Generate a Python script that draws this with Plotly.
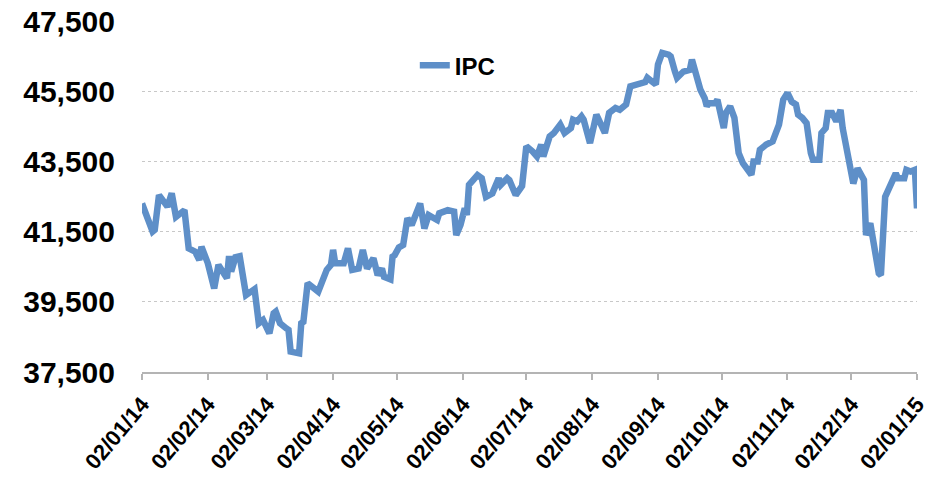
import plotly.graph_objects as go

dates = [
    "2014-01-02", "2014-01-07", "2014-01-08", "2014-01-10", "2014-01-14", "2014-01-16", "2014-01-18",
    "2014-01-20", "2014-01-22", "2014-01-24", "2014-01-27", "2014-01-29", "2014-01-30",
    "2014-02-02", "2014-02-05", "2014-02-07", "2014-02-11", "2014-02-12", "2014-02-13", "2014-02-15",
    "2014-02-17", "2014-02-20", "2014-02-24", "2014-02-26", "2014-02-28",
    "2014-03-03", "2014-03-05", "2014-03-06", "2014-03-08", "2014-03-11", "2014-03-12", "2014-03-13",
    "2014-03-17", "2014-03-18", "2014-03-19", "2014-03-21", "2014-03-26", "2014-03-30",
    "2014-04-01", "2014-04-02", "2014-04-03", "2014-04-07", "2014-04-09", "2014-04-11", "2014-04-14",
    "2014-04-16", "2014-04-18", "2014-04-21", "2014-04-23", "2014-04-25", "2014-04-26", "2014-04-29",
    "2014-04-30",
    "2014-05-01", "2014-05-03", "2014-05-05", "2014-05-07", "2014-05-09", "2014-05-13", "2014-05-15",
    "2014-05-17", "2014-05-21", "2014-05-22", "2014-05-26", "2014-05-28", "2014-05-29", "2014-05-30",
    "2014-06-01", "2014-06-03", "2014-06-04", "2014-06-05", "2014-06-09", "2014-06-11", "2014-06-13",
    "2014-06-16", "2014-06-19", "2014-06-20", "2014-06-23", "2014-06-24", "2014-06-27", "2014-06-30",
    "2014-07-02", "2014-07-05", "2014-07-07", "2014-07-09", "2014-07-10", "2014-07-13", "2014-07-15",
    "2014-07-18", "2014-07-20", "2014-07-23", "2014-07-24", "2014-07-26", "2014-07-28", "2014-07-29",
    "2014-08-01", "2014-08-04", "2014-08-06", "2014-08-08", "2014-08-10", "2014-08-13", "2014-08-15",
    "2014-08-18", "2014-08-20", "2014-08-24", "2014-08-27", "2014-08-28", "2014-08-30",
    "2014-09-01", "2014-09-02", "2014-09-04", "2014-09-07", "2014-09-08", "2014-09-10", "2014-09-11",
    "2014-09-14", "2014-09-17", "2014-09-18", "2014-09-20", "2014-09-22", "2014-09-24", "2014-09-25",
    "2014-09-26", "2014-09-29", "2014-09-30",
    "2014-10-02", "2014-10-03", "2014-10-04", "2014-10-06", "2014-10-08", "2014-10-10", "2014-10-12",
    "2014-10-14", "2014-10-16", "2014-10-17", "2014-10-19", "2014-10-20", "2014-10-23", "2014-10-26",
    "2014-10-29", "2014-10-31",
    "2014-11-02", "2014-11-04", "2014-11-06", "2014-11-07", "2014-11-09", "2014-11-11", "2014-11-12",
    "2014-11-13", "2014-11-14", "2014-11-17", "2014-11-18", "2014-11-20", "2014-11-21", "2014-11-23",
    "2014-11-25", "2014-11-27", "2014-11-28",
    "2014-12-02", "2014-12-03", "2014-12-05", "2014-12-06", "2014-12-08", "2014-12-09", "2014-12-11",
    "2014-12-15", "2014-12-16", "2014-12-18", "2014-12-20", "2014-12-23", "2014-12-24", "2014-12-27",
    "2014-12-28", "2014-12-30", "2015-01-01", "2015-01-02",
]

ipc = [
    42300, 41500, 41550, 42540, 42210, 42590, 41920,
    42030, 42110, 41020, 40930, 40690, 41070,
    40600, 39880, 40550, 40170, 40800, 40360, 40770,
    40800, 39690, 39860, 38890, 38980,
    38600, 39170, 39220, 38890, 38740, 38700, 38080,
    38030, 38890, 38930, 40030, 39790, 40410,
    40550, 40980, 40600, 40600, 41020, 40410, 40450,
    40980, 40450, 40740, 40260, 40450, 40210, 40140,
    40790,
    40830, 41050, 41120, 41880, 41690, 42300, 41590,
    41970, 41830, 42020, 42110, 42070, 42070, 41400,
    41690, 42160, 41970, 42830, 43110, 43020, 42490,
    42590, 43020, 42830, 43020, 42970, 42540, 42800,
    43930, 43780, 43640, 43980, 43640, 44210, 44310,
    44550, 44310, 44450, 44690, 44640, 44780, 44690,
    44020, 44830, 44550, 44310, 44880, 45020, 44970,
    45120, 45640, 45690, 45760, 45880, 45780,
    45690, 46260, 46590, 46540, 46490, 46060, 45880,
    46060, 46110, 46400, 45970, 45540, 45300, 45070,
    45160, 45160, 45260,
    44550, 44450, 44880, 45070, 44740, 43740, 43450,
    43310, 43120, 43500, 43500, 43830, 43980, 44070,
    44550, 45260,
    45450, 45200, 45120, 44830, 44740, 44590, 44020,
    43740, 43550, 43550, 44310, 44450, 44880, 44880,
    44640, 44970, 44450,
    43020, 42870, 43300, 43160, 42970, 41400, 41740,
    40310, 40260, 42490, 42730, 43160, 43020, 43020,
    43260, 43210, 43260, 42160,
]

tick_dates = [
    "2014-01-02", "2014-02-02", "2014-03-02", "2014-04-02", "2014-05-02", "2014-06-02",
    "2014-07-02", "2014-08-02", "2014-09-02", "2014-10-02", "2014-11-02", "2014-12-02",
    "2015-01-02",
]
y_ticks = [37500, 39500, 41500, 43500, 45500, 47500]

fig = go.Figure()
fig.add_trace(go.Scatter(
    x=dates, y=ipc, mode="lines", name="IPC",
    line=dict(color="#5E8FC8", width=6.5),
))

fig.update_layout(
    width=932, height=479,
    margin=dict(l=142, r=15, t=21, b=107, autoexpand=False),
    paper_bgcolor="white", plot_bgcolor="white",
    showlegend=True,
    legend=dict(
        x=0.352, y=0.873, xanchor="left", yanchor="middle",
        bgcolor="rgba(0,0,0,0)",
        font=dict(family="Liberation Sans Narrow, Arial Narrow, Liberation Sans, Arial", size=24, color="black", weight="bold"),
        itemwidth=30,
    ),
    font=dict(family="Liberation Sans, Arial", color="black"),
)

fig.update_xaxes(
    type="date",
    range=["2014-01-02", "2015-01-02"],
    tickvals=tick_dates,
    tickformat="%d/%m/%y",
    tickangle=-50,
    tickfont=dict(family="Liberation Sans, Arial", size=22, color="black", weight="bold"),
    showgrid=False,
    showline=True, linecolor="#b4b4b4", linewidth=1.5,
    ticks="outside", tickcolor="#b4b4b4", ticklen=6, tickwidth=1.5,
    ticklabelstandoff=3,
    ticklabeloverflow="allow",
    zeroline=False,
    automargin=False,
)

fig.update_yaxes(
    range=[37500, 47500],
    tickvals=y_ticks,
    tickformat=",",
    tickfont=dict(family="Liberation Sans, Arial", size=30, color="black", weight="bold"),
    showgrid=True, gridcolor="#c8c8c8", gridwidth=1, griddash="dot",
    showline=False, zeroline=False,
    ticks="", ticklabelstandoff=26,
    ticklabeloverflow="allow",
    automargin=False,
)

fig.write_html(
    "out.html",
    config={"displayModeBar": False},
    post_script="document.body.style.margin='0';document.body.style.padding='0';",
)
